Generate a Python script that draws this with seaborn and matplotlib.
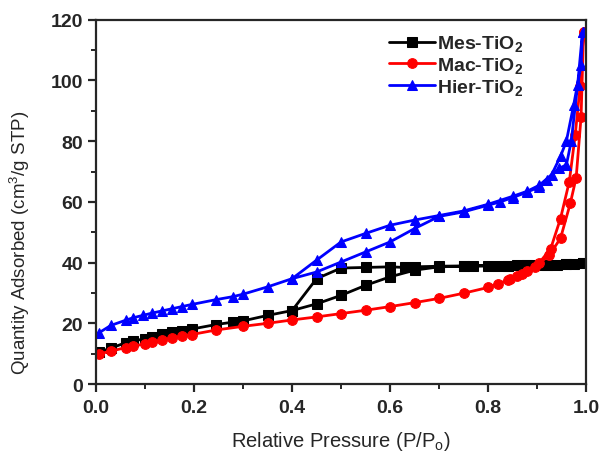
import numpy as np
import pandas as pd
import matplotlib
matplotlib.use("Agg")
import matplotlib.pyplot as plt
from matplotlib.ticker import MultipleLocator, FormatStrFormatter
import seaborn as sns

# N2 adsorption / desorption isotherms of the three TiO2 samples
mes_ads_x = [0.005, 0.03, 0.06, 0.075, 0.1, 0.115, 0.135, 0.155, 0.175, 0.195, 0.245, 0.28, 0.30,
             0.35, 0.40, 0.45, 0.50, 0.55, 0.60, 0.65, 0.70, 0.75, 0.77, 0.82, 0.84, 0.86, 0.88,
             0.90, 0.92, 0.94, 0.96, 0.975, 0.993]
mes_ads_y = [10.5, 11.8, 13.6, 14.2, 14.9, 15.6, 16.4, 17.0, 17.5, 18.1, 19.6, 20.4, 20.8,
             22.6, 24.2, 26.4, 29.2, 32.5, 35.3, 37.5, 38.6, 38.8, 38.9, 39.0, 39.0, 39.1, 39.1,
             39.2, 39.3, 39.3, 39.4, 39.5, 39.7]
mes_des_x = [0.993, 0.96, 0.92, 0.88, 0.84, 0.80, 0.75, 0.70, 0.65, 0.63, 0.60, 0.55, 0.50, 0.45, 0.40]
mes_des_y = [39.7, 39.5, 39.3, 39.1, 39.0, 38.9, 38.9, 38.8, 38.6, 38.4, 38.6, 38.4, 38.2, 34.7, 24.2]

mac_ads_x = [0.005, 0.03, 0.06, 0.075, 0.1, 0.115, 0.135, 0.155, 0.175, 0.195, 0.245, 0.30, 0.35,
             0.40, 0.45, 0.50, 0.55, 0.60, 0.65, 0.70, 0.75, 0.80, 0.82, 0.845, 0.87, 0.895,
             0.925, 0.948, 0.968, 0.98, 0.99, 0.995]
mac_ads_y = [9.9, 10.8, 12.0, 12.5, 13.2, 13.8, 14.5, 15.1, 15.7, 16.3, 17.8, 19.0, 20.0,
             21.1, 22.1, 23.2, 24.3, 25.5, 26.8, 28.2, 29.9, 31.8, 33.0, 34.5, 36.3, 38.5,
             42.4, 48.0, 59.5, 68.0, 88.0, 116.0]
mac_des_x = [0.995, 0.988, 0.978, 0.966, 0.948, 0.928, 0.905, 0.88, 0.86, 0.84]
mac_des_y = [116.0, 98.0, 82.0, 66.7, 54.5, 44.6, 40.0, 37.2, 35.6, 34.3]

hier_ads_x = [0.005, 0.03, 0.06, 0.075, 0.095, 0.115, 0.135, 0.155, 0.175, 0.195, 0.245, 0.28, 0.30,
              0.35, 0.40, 0.45, 0.50, 0.55, 0.60, 0.65, 0.70, 0.75, 0.80, 0.825, 0.85, 0.88,
              0.905, 0.92, 0.945, 0.96, 0.97, 0.983, 0.993]
hier_ads_y = [16.8, 19.3, 21.0, 21.8, 22.6, 23.4, 24.1, 24.8, 25.5, 26.2, 27.8, 28.8, 29.6,
              32.0, 34.7, 36.9, 40.2, 43.5, 46.8, 51.2, 55.2, 56.7, 58.9, 60.0, 61.4, 63.2,
              65.0, 67.2, 71.0, 72.2, 80.0, 98.6, 116.0]
hier_des_x = [0.993, 0.99, 0.975, 0.96, 0.948, 0.93, 0.905, 0.88, 0.85, 0.80, 0.75, 0.70, 0.65,
              0.60, 0.55, 0.50, 0.45, 0.40]
hier_des_y = [116.0, 105.0, 92.0, 80.0, 75.0, 69.0, 65.5, 63.5, 61.8, 59.2, 57.0, 55.5, 54.0,
              52.3, 49.6, 46.8, 40.8, 34.7]

series_names = ["Mes-TiO$_2$", "Mac-TiO$_2$", "Hier-TiO$_2$"]
series_colors = ["black", "#ff0000", "#0000ff"]
series_markers = ["s", "o", "^"]

sns.set_style("ticks")
plt.rcParams["font.family"] = ["Liberation Sans", "DejaVu Sans"]
plt.rcParams["mathtext.fontset"] = "custom"
plt.rcParams["mathtext.rm"] = "Liberation Sans"
plt.rcParams["mathtext.bf"] = "Liberation Sans:bold"
plt.rcParams["mathtext.default"] = "regular"

frames = []
for name, (ax_, ay_, dx_, dy_) in zip(series_names, [
        (mes_ads_x, mes_ads_y, mes_des_x, mes_des_y),
        (mac_ads_x, mac_ads_y, mac_des_x, mac_des_y),
        (hier_ads_x, hier_ads_y, hier_des_x, hier_des_y)]):
    xs = list(ax_) + list(dx_)
    ys = list(ay_) + list(dy_)
    frames.append(pd.DataFrame({"p": xs, "q": ys, "sample": name}))
df = pd.concat(frames, ignore_index=True)

fig = plt.figure(figsize=(6.01, 4.60), dpi=100)
ax = fig.add_axes([0.16, 0.163, 0.815, 0.792])

for name, color, marker in zip(series_names, series_colors, series_markers):
    sub = df[df["sample"] == name]
    sns.lineplot(data=sub, x="p", y="q", sort=False, estimator=None, ax=ax,
                 color=color, marker=marker, markersize=7, markeredgecolor=color,
                 linewidth=2.0, label=name)

ax.set_xlim(0, 1.0)
ax.set_ylim(0, 120)
ax.xaxis.set_major_locator(MultipleLocator(0.2))
ax.xaxis.set_minor_locator(MultipleLocator(0.1))
ax.yaxis.set_major_locator(MultipleLocator(20))
ax.yaxis.set_minor_locator(MultipleLocator(10))
ax.xaxis.set_major_formatter(FormatStrFormatter("%.1f"))
ax.tick_params(which="major", direction="out", length=6, width=1.6, labelsize=14)
ax.tick_params(which="minor", direction="out", length=3.5, width=1.4)
ax.tick_params(axis="x", pad=5)
for lbl in ax.get_xticklabels() + ax.get_yticklabels():
    lbl.set_fontweight("bold")
for sp in ax.spines.values():
    sp.set_linewidth(1.6)
    sp.set_visible(True)

ax.set_xlabel("Relative Pressure (P/P$_o$)", fontsize=14.5, labelpad=9)
ax.set_ylabel("Quantity Adsorbed (cm$^3$/g STP)", fontsize=13.5)
ax.yaxis.set_label_coords(-0.132, 0.39)

leg = ax.legend(loc="upper right", bbox_to_anchor=(0.90, 1.0), frameon=False,
                prop={"weight": "bold", "size": 14}, handlelength=2.4,
                handletextpad=0.1, labelspacing=0.1, borderaxespad=0.3)

fig.savefig("out.png", dpi=100)
